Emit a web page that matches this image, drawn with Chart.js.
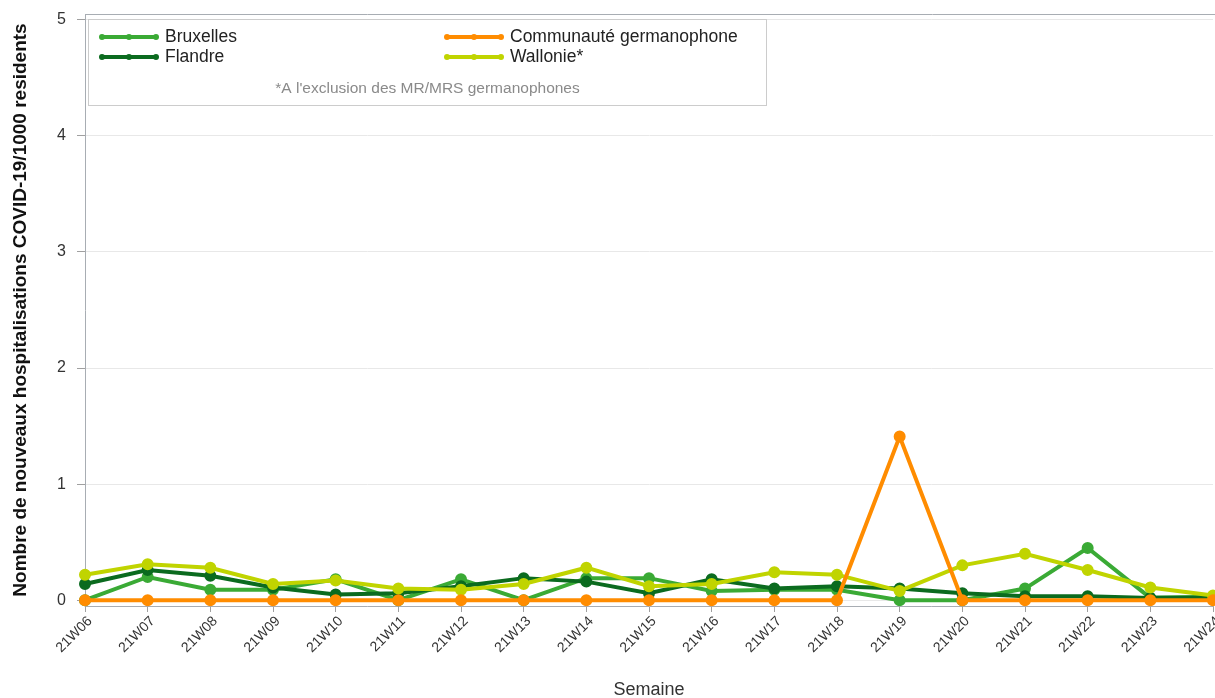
<!DOCTYPE html>
<html>
<head>
<meta charset="utf-8">
<script src="https://cdn.jsdelivr.net/npm/chart.js@4/dist/chart.umd.min.js"></script>
<style>
  html, body { margin: 0; padding: 0; background: #fff; }
  #wrap { width: 1215px; height: 698px; position: relative; }
</style>
</head>
<body>
<div id="wrap"><canvas id="chart"></canvas></div>
<script>
// semaines
const weeks = ['21W06', '21W07', '21W08', '21W09', '21W10', '21W11', '21W12', '21W13', '21W14', '21W15',
  '21W16', '21W17', '21W18', '21W19', '21W20', '21W21', '21W22', '21W23', '21W24'];

// hospitalisations / 1000 residents
const bruxelles = [0, 0.2, 0.09, 0.09, 0.18, 0, 0.18, 0, 0.19, 0.19, 0.08, 0.09, 0.09, 0, 0, 0.1, 0.45, 0.02, 0.03];
const flandre = [0.14, 0.26, 0.21, 0.11, 0.05, 0.06, 0.12, 0.19, 0.16, 0.06, 0.18, 0.1, 0.12, 0.1, 0.06, 0.035, 0.035, 0.02, 0.02];
const germanophone = [0, 0, 0, 0, 0, 0, 0, 0, 0, 0, 0, 0, 0, 1.41, 0, 0, 0, 0, 0];
const wallonie = [0.22, 0.31, 0.28, 0.14, 0.17, 0.1, 0.09, 0.14, 0.28, 0.12, 0.14, 0.24, 0.22, 0.08, 0.3, 0.4, 0.26, 0.11, 0.04];

const yTicks = [0, 1, 2, 3, 4, 5];
const footnote = "*A l'exclusion des MR/MRS germanophones";

const FONT = "'Liberation Sans', Arial, sans-serif";

function serie(label, data, color, order) {
  return {
    label, data, order,
    borderColor: color,
    backgroundColor: color,
    borderWidth: 4,
    pointRadius: 4,
    pointHoverRadius: 4,
    tension: 0,
    clip: 6
  };
}

const datasets = [
  serie('Bruxelles', bruxelles, '#3aaa35', 3),
  serie('Flandre', flandre, '#0b6b1f', 2),
  serie('Communauté germanophone', germanophone, '#ff8c00', 0),
  serie('Wallonie*', wallonie, '#c0d400', 1)
];

// cadre du haut + legende encadree dans la zone du graphique
const legendBox = {
  id: 'legendBox',
  afterDraw(chart) {
    const ctx = chart.ctx;
    const a = chart.chartArea;
    ctx.save();

    ctx.strokeStyle = '#a8adb3';
    ctx.lineWidth = 1;
    ctx.beginPath();
    ctx.moveTo(a.left, a.top + 0.5);
    ctx.lineTo(chart.width, a.top + 0.5);
    ctx.stroke();

    const bx = a.left + 3.5, by = a.top + 5.5, bw = 678, bh = 86;
    ctx.fillStyle = '#fff';
    ctx.fillRect(bx, by, bw, bh);
    ctx.strokeStyle = '#cccccc';
    ctx.strokeRect(bx, by, bw, bh);

    const cols = [a.left + 15, a.left + 360];
    const rows = [a.top + 23, a.top + 43];
    const slots = [[0, 0], [0, 1], [1, 0], [1, 1]];
    chart.data.datasets.forEach((ds, i) => {
      const x = cols[slots[i][0]], y = rows[slots[i][1]];
      ctx.strokeStyle = ds.borderColor;
      ctx.fillStyle = ds.borderColor;
      ctx.lineWidth = 4;
      ctx.beginPath();
      ctx.moveTo(x, y);
      ctx.lineTo(x + 58, y);
      ctx.stroke();
      [x + 2, x + 29, x + 56].forEach(px => {
        ctx.beginPath();
        ctx.arc(px, y, 3, 0, Math.PI * 2);
        ctx.fill();
      });
      ctx.fillStyle = '#222';
      ctx.font = '17.5px ' + FONT;
      ctx.textBaseline = 'middle';
      ctx.textAlign = 'left';
      ctx.fillText(ds.label, x + 65, y);
    });

    ctx.fillStyle = '#8a8a8a';
    ctx.font = '15.5px ' + FONT;
    ctx.textAlign = 'center';
    ctx.textBaseline = 'middle';
    ctx.fillText(footnote, bx + 339, a.top + 75);
    ctx.restore();
  }
};

new Chart(document.getElementById('chart'), {
  type: 'line',
  data: { labels: weeks, datasets },
  plugins: [legendBox],
  options: {
    responsive: true,
    maintainAspectRatio: false,
    animation: false,
    layout: { autoPadding: false, padding: { top: 14, right: 0, bottom: 0, left: 0 } },
    plugins: {
      legend: { display: false },
      tooltip: { enabled: false }
    },
    scales: {
      x: {
        offset: false,
        afterFit(scale) {
          scale.height = 92;
          scale.paddingLeft = 3;
          scale.paddingRight = 2;
        },
        grid: { drawOnChartArea: false, tickLength: 6, tickColor: '#a0a0a0' },
        border: { color: '#a8adb3' },
        ticks: {
          color: '#333',
          font: { family: FONT, size: 14 },
          minRotation: 45,
          maxRotation: 45,
          autoSkip: false,
          padding: 1,
          labelOffset: 5
        },
        title: {
          display: true,
          text: 'Semaine',
          color: '#333',
          font: { family: FONT, size: 18 },
          padding: { top: 3, bottom: -3 }
        }
      },
      y: {
        min: -0.05,
        max: 5.05,
        afterFit(scale) {
          scale.width = 85;
          scale.paddingTop = 0;
          scale.paddingBottom = 0;
        },
        afterBuildTicks(scale) { scale.ticks = yTicks.map(v => ({ value: v })); },
        grid: { color: '#e8e8e8', tickColor: '#a0a0a0', tickLength: 8 },
        border: { color: '#a8adb3' },
        ticks: {
          color: '#333',
          font: { family: FONT, size: 16 },
          padding: 11
        },
        title: {
          display: true,
          text: 'Nombre de nouveaux hospitalisations COVID-19/1000 residents',
          color: '#111',
          font: { family: FONT, size: 19, weight: 'bold' },
          padding: { top: 9, bottom: 0 }
        }
      }
    }
  }
});
</script>
</body>
</html>
